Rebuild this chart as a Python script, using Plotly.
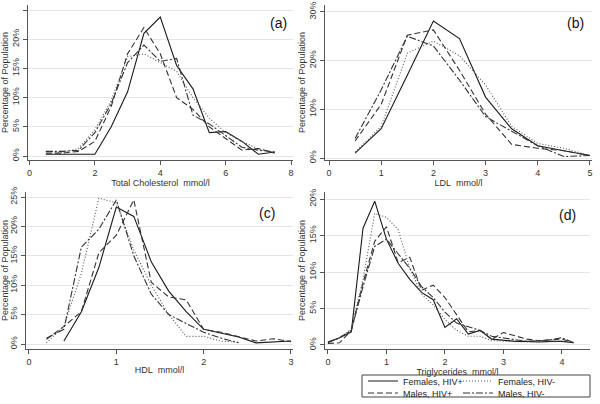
import plotly.graph_objects as go

W, H = 600, 404

# ---------------- data ----------------
series_names = ["Females, HIV+", "Females, HIV-", "Males, HIV+", "Males, HIV-"]

a_x = [0.5, 1.0, 1.5, 2.0, 2.5, 3.0, 3.5, 4.0, 4.5, 5.0, 5.5, 6.0, 6.5, 7.0, 7.5]
a_fp = [0.3, 0.3, 0.3, 0.3, 5.0, 11.0, 21.0, 23.8, 15.5, 11.5, 4.0, 4.2, 2.5, 0.3, 0.7]
a_fn = [0.8, 0.6, 1.3, 4.5, 9.5, 17.0, 17.5, 16.0, 14.5, 10.0, 6.5, 4.0, 2.5, 1.2, 0.6]
a_mp = [0.5, 0.5, 0.8, 2.5, 8.5, 17.5, 22.0, 17.5, 10.0, 8.0, 5.0, 3.0, 1.0, 1.3, 0.5]
a_mn = [0.8, 0.8, 1.0, 4.0, 9.0, 16.0, 19.0, 16.2, 16.7, 7.0, 5.5, 3.5, 1.5, 1.0, 0.7]

b_x = [0.5, 1.0, 1.5, 2.0, 2.5, 3.0, 3.5, 4.0, 4.5, 5.0]
b_fp = [1.0, 6.0, 17.0, 28.1, 24.5, 12.5, 6.0, 2.5, 1.5, 0.5]
b_fn = [1.2, 6.5, 21.5, 24.0, 21.0, 15.0, 6.5, 3.0, 2.0, 0.5]
b_mp = [3.5, 11.0, 25.2, 26.3, 18.0, 9.0, 2.8, 2.0, 1.5, 0.5]
b_mn = [4.0, 14.0, 25.0, 23.0, 16.0, 8.5, 5.5, 2.5, 0.3, 0.5]

c_x = [0.2, 0.4, 0.6, 0.8, 1.0, 1.2, 1.4, 1.6, 1.8, 2.0, 2.2, 2.4, 2.6, 2.8, 3.0]
c_fp = [None, 0.5, 5.5, 13.0, 23.3, 21.7, 14.0, 9.0, 5.5, 2.5, 1.8, 1.2, 0.2, 0.3, 0.5]
c_fn = [0.2, 3.0, 12.0, 24.8, 24.0, 16.0, 10.0, 5.0, 1.3, 1.3, 0.5, 0.3, None, None, None]
c_mp = [0.8, 3.0, 5.5, 15.5, 18.5, 24.5, 10.5, 8.0, 7.5, 2.5, 2.0, 1.2, 0.5, 0.9, 0.4]
c_mn = [1.0, 2.5, 16.5, 19.5, 24.5, 15.0, 8.5, 5.0, 3.5, 2.0, 1.0, 0.2, None, None, None]

d_x = [0.0, 0.2, 0.4, 0.6, 0.8, 1.0, 1.2, 1.4, 1.6, 1.8, 2.0,
       2.2, 2.4, 2.6, 2.8, 3.0, 3.2, 3.4, 3.6, 3.8, 4.0, 4.2]
d_fp = [0.4, 1.0, 1.8, 16.0, 19.7, 14.5, 11.2, 9.0, 7.2, 6.2, 2.4,
        3.6, 1.5, 2.0, 0.8, 0.6, 0.5, 0.5, 0.4, 0.5, 0.5, 0.3]
d_fn = [0.3, 1.0, 2.2, 9.0, 18.0, 17.5, 15.8, 10.5, 7.0, 5.5, 3.5,
        2.0, 1.2, 1.2, 0.6, 0.5, 0.4, 0.4, 0.4, 0.5, 0.5, 0.3]
d_mp = [0.2, 0.3, 2.0, 8.5, 14.2, 16.2, 11.3, 12.0, 7.5, 8.2, 6.5,
        4.2, 1.8, 2.0, 0.8, 1.7, 1.2, 0.8, 0.6, 0.7, 0.8, 0.3]
d_mn = [0.3, 1.0, 2.0, 8.0, 13.5, 14.5, 12.5, 10.5, 8.0, 6.5, 4.5,
        3.0, 2.5, 2.0, 1.2, 1.0, 0.8, 0.5, 0.6, 0.7, 1.0, 0.3]

# ---------------- styles ----------------
styles = [
    dict(color="#1a1a1a", dash="solid", width=1.1),
    dict(color="#555555", dash="1px,2px", width=1.1),
    dict(color="#333333", dash="6px,3px", width=1.1),
    dict(color="#333333", dash="7px,2px,2px,2px", width=1.1),
]

def fx(p):
    return p / W

def fy(p):
    return 1 - p / H

panels = [
    dict(x=a_x, ys=[a_fp, a_fn, a_mp, a_mn], xdom=(28, 293), ydom=(5, 160),
         xr=(-0.046, 8.06), yr=(-0.68, 25.86), xt=[0, 2, 4, 6, 8],
         yt=[0, 5, 10, 15, 20, 25], title="Total Cholesterol\u00a0 mmol/l",
         label="(a)", lab=(278, 23)),
    dict(x=b_x, ys=[b_fp, b_fn, b_mp, b_mn], xdom=(325, 592), ydom=(5, 160),
         xr=(-0.077, 5.04), yr=(-0.41, 31.4), xt=[0, 1, 2, 3, 4, 5],
         yt=[0, 10, 20, 30], title="LDL\u00a0 mmol/l",
         label="(b)", lab=(575, 23)),
    dict(x=c_x, ys=[c_fp, c_fn, c_mp, c_mn], xdom=(26, 293), ydom=(192, 349),
         xr=(-0.034, 3.023), yr=(-0.85, 25.85), xt=[0, 1, 2, 3],
         yt=[0, 5, 10, 15, 20, 25], title="HDL\u00a0 mmol/l",
         label="(c)", lab=(267, 213)),
    dict(x=d_x, ys=[d_fp, d_fn, d_mp, d_mn], xdom=(325, 590), ydom=(192, 349),
         xr=(-0.05, 4.48), yr=(-0.55, 20.96), xt=[0, 1, 2, 3, 4],
         yt=[0, 5, 10, 15, 20], title="Triglycerides\u00a0 mmol/l",
         label="(d)", lab=(567, 215)),
]

legend_ids = ["legend", "legend2", "legend3", "legend4"]

fig = go.Figure()
layout = dict(width=W, height=H, margin=dict(l=0, r=0, t=0, b=0, autoexpand=False),
              paper_bgcolor="white", plot_bgcolor="white",
              font=dict(family="Liberation Sans, Arial, sans-serif", size=9, color="#333"),
              annotations=[], shapes=[])

axis_common = dict(showline=True, linecolor="#555", linewidth=1, ticks="outside",
                   ticklen=4, tickcolor="#555", zeroline=False, automargin=False,
                   tickmode="array", tickfont=dict(size=9, color="#333"))

for i, p in enumerate(panels):
    n = "" if i == 0 else str(i + 1)
    xa, ya = "x" + n, "y" + n
    for k in range(4):
        fig.add_trace(go.Scatter(
            x=p["x"], y=p["ys"][k], mode="lines", name=series_names[k],
            line=styles[k], xaxis=xa, yaxis=ya,
            showlegend=(i == 3), legend=legend_ids[k], legendgroup=series_names[k],
            connectgaps=False, hoverinfo="skip"))
    layout["xaxis" + n] = dict(axis_common, domain=[fx(p["xdom"][0]), fx(p["xdom"][1])],
                               range=list(p["xr"]), autorange=False,
                               tickvals=p["xt"], ticktext=[str(v) for v in p["xt"]],
                               anchor=ya, showgrid=False,
                               title=dict(text=p["title"], font=dict(size=9, color="#333"),
                                          standoff=0))
    layout["yaxis" + n] = dict(axis_common, domain=[fy(p["ydom"][1]), fy(p["ydom"][0])],
                               range=list(p["yr"]), autorange=False,
                               tickvals=p["yt"], ticktext=[f"{v}%" for v in p["yt"]],
                               tickangle=-90,
                               anchor=xa, showgrid=True,
                               gridcolor="#e6e6e6", gridwidth=1,
                               title=dict(text="Percentage of Population",
                                          font=dict(size=9, color="#333"), standoff=1))
    layout["annotations"].append(dict(
        text=p["label"], x=fx(p["lab"][0]), y=fy(p["lab"][1]), xref="paper", yref="paper",
        xanchor="center", yanchor="middle", showarrow=False,
        font=dict(size=14, color="#111")))

# legend: four single-entry legends placed in a 2x2 grid inside one box
leg_pos = [(363, 381), (458, 381), (363, 393), (458, 393)]
for k, lid in enumerate(legend_ids):
    layout[lid] = dict(x=fx(leg_pos[k][0]), y=fy(leg_pos[k][1]), xanchor="left",
                       yanchor="middle", bgcolor="rgba(0,0,0,0)", borderwidth=0,
                       font=dict(size=9, color="#222"), itemclick=False)
layout["shapes"].append(dict(type="rect", xref="paper", yref="paper",
                             x0=fx(362), x1=fx(590), y0=fy(397), y1=fy(375),
                             line=dict(color="#444", width=1), fillcolor="rgba(0,0,0,0)"))

fig.update_layout(**layout)
fig.write_html("out.html", config={"displayModeBar": False},
               post_script="document.body.style.margin='0px';")
